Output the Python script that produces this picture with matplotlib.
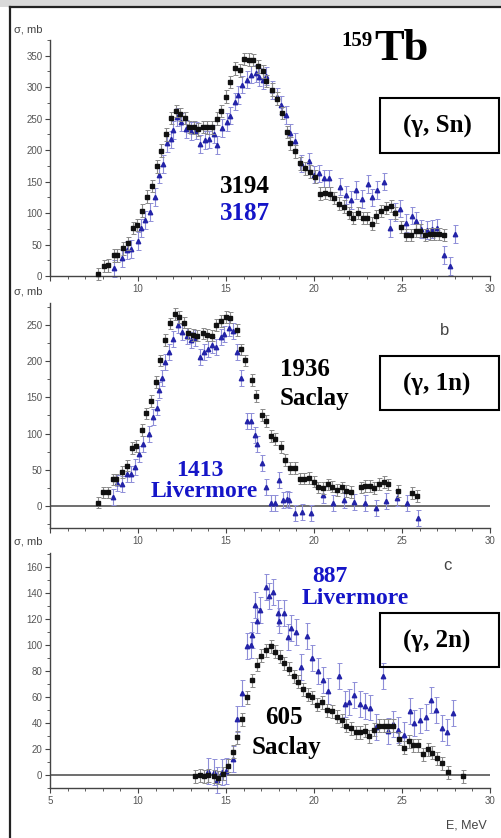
import matplotlib.pyplot as plt
import numpy as np
from matplotlib.patches import Rectangle
from matplotlib.lines import Line2D
from matplotlib.ticker import MultipleLocator

W, H = 501, 838

# ---- panel a: (g, Sn) ----
a_sac_e = [7.74, 8.07, 8.3, 8.64, 8.8, 9.13, 9.41, 9.7, 9.96, 10.2, 10.5, 10.78, 11.06, 11.3, 11.6, 11.86,
           12.14, 12.4, 12.66, 12.9, 13.2, 13.4, 13.7, 13.9, 14.2, 14.5, 14.7, 15.0, 15.2, 15.5, 15.8, 16.0,
           16.3, 16.55, 16.84, 17.1, 17.3, 17.6, 17.9, 18.2, 18.45, 18.64, 18.9, 19.2, 19.5, 19.8, 20.06,
           20.34, 20.6, 20.9, 21.15, 21.4, 21.7, 21.97, 22.2, 22.5, 22.8, 23.0, 23.3, 23.55, 23.8, 24.1,
           24.35, 24.6, 24.94, 25.2, 25.5, 25.8, 26.0, 26.3, 26.6, 26.8, 27.1, 27.4]
a_sac_s = [3, 16, 17, 33, 33, 44, 52, 76, 81, 104, 126, 143, 174, 199, 225, 251,
           262, 257, 251, 237, 236, 233, 237, 236, 236, 250, 262, 285, 308, 330, 327, 345,
           344, 343, 333, 325, 310, 296, 282, 259, 229, 211, 198, 179, 171, 166, 158,
           131, 132, 131, 124, 115, 110, 100, 92, 100, 92, 92, 83, 95, 103, 108,
           111, 100, 78, 65, 65, 72, 72, 65, 67, 67, 67, 65]
a_liv_e = [8.64, 9.07, 9.4, 9.6, 9.98, 10.15, 10.4, 10.68, 10.97, 11.2, 11.4, 11.67, 11.86, 12.0, 12.23,
           12.46, 12.74, 13.0, 13.3, 13.5, 13.8, 14.05, 14.3, 14.5, 14.75, 15.05, 15.25, 15.5, 15.7, 15.9,
           16.2, 16.4, 16.7, 16.9, 17.1, 17.3, 17.6, 17.9, 18.1, 18.4, 18.64, 18.9, 19.26, 19.7, 20.0,
           20.26, 20.55, 20.85, 21.5, 21.8, 22.1, 22.4, 22.7, 23.05, 23.3, 23.6, 23.98, 24.3, 24.6, 24.9,
           25.2, 25.55, 25.8, 26.1, 26.4, 26.7, 27.0, 27.4, 27.7, 28.0]
a_liv_s = [12, 28, 41, 43, 56, 76, 89, 102, 126, 161, 178, 211, 217, 232, 253,
           245, 234, 230, 231, 210, 216, 217, 226, 208, 235, 245, 255, 277, 288, 304,
           312, 320, 322, 316, 311, 318, 296, 285, 272, 256, 227, 214, 179, 182, 161,
           163, 155, 155, 142, 129, 121, 137, 122, 146, 125, 137, 150, 76, 102, 107,
           84, 96, 88, 75, 73, 75, 77, 33, 16, 67]

# ---- panel b: (g, 1n) ----
b_sac_e = [7.75, 8.03, 8.27, 8.56, 8.75, 9.1, 9.38, 9.64, 9.9, 10.2, 10.45, 10.74, 11.0, 11.27, 11.53, 11.8,
           12.08, 12.33, 12.6, 12.85, 13.1, 13.36, 13.7, 13.9, 14.2, 14.45, 14.7, 15.0, 15.25, 15.6, 15.87,
           16.1, 16.45, 16.72, 17.02, 17.28, 17.55, 17.8, 18.1, 18.38, 18.64, 18.9, 19.18, 19.44, 19.7,
           20.0, 20.25, 20.5, 20.8, 21.05, 21.32, 21.58, 21.83, 22.1, 22.65, 22.9, 23.17, 23.42, 23.72,
           23.98, 24.23, 24.8, 25.55, 25.85]
b_sac_s = [5, 19, 19, 37, 37, 47, 56, 80, 83, 105, 128, 145, 171, 201, 229, 252,
           265, 261, 253, 238, 236, 235, 238, 236, 235, 250, 255, 261, 260, 243, 216,
           201, 174, 152, 126, 117, 97, 93, 82, 64, 53, 53, 38, 38, 39,
           34, 26, 25, 30, 27, 22, 26, 21, 20, 26, 28, 28, 25, 31,
           33, 30, 21, 18, 14]
b_liv_e = [8.6, 8.83, 9.1, 9.36, 9.6, 9.85, 10.06, 10.3, 10.6, 10.87, 11.1, 11.2, 11.35, 11.55, 11.76, 11.97,
           12.3, 12.5, 12.77, 13.0, 13.26, 13.5, 13.75, 14.0, 14.2, 14.45, 14.7, 14.9, 15.15, 15.4, 15.6,
           15.85, 16.18, 16.4, 16.65, 16.78, 17.03, 17.3, 17.54, 17.78, 18.0, 18.26, 18.45, 18.6, 18.92,
           19.3, 19.85, 20.5, 21.1, 21.7, 22.3, 22.9, 23.55, 24.1, 24.7, 25.3, 25.9]
b_liv_s = [13, 32, 30, 44, 45, 54, 72, 86, 100, 123, 136, 160, 176, 199, 213, 230,
           249, 240, 235, 229, 232, 206, 213, 216, 222, 220, 233, 237, 246, 242, 213,
           176, 117, 117, 98, 86, 59, 27, 4, 5, 36, 8, 10, 8, -10,
           -8, -10, 15, 5, 8, 6, 4, -3, 7, 11, 4, -16]

# ---- panel c: (g, 2n) ----
c_sac_e = [13.24, 13.5, 13.75, 14.0, 14.3, 14.55, 14.85, 15.1, 15.38, 15.64, 15.9, 16.18, 16.46, 16.75, 17.0,
           17.26, 17.54, 17.8, 18.06, 18.3, 18.6, 18.85, 19.1, 19.37, 19.65, 19.9, 20.16, 20.45, 20.76,
           21.0, 21.3, 21.6, 21.8, 22.1, 22.4, 22.6, 22.9, 23.15, 23.4, 23.7, 24.0, 24.2, 24.5, 24.85,
           25.1, 25.4, 25.65, 25.9, 26.2, 26.45, 26.7, 27.0, 27.25, 27.6, 28.45]
c_sac_s = [-1, 0, -1, 0, -1, -2, 1, 7, 18, 29, 43, 60, 73, 85, 92,
           96, 99, 95, 91, 86, 82, 76, 72, 66, 62, 60, 54, 56, 50,
           49, 45, 42, 38, 36, 33, 33, 34, 30, 35, 38, 38, 38, 38, 28,
           21, 26, 23, 23, 16, 20, 17, 13, 9, 2, -1]
c_liv_e = [14.0, 14.3, 14.5, 14.75, 15.0, 15.4, 15.64, 15.9, 16.18, 16.4, 16.46, 16.65, 16.75, 16.95, 17.27,
           17.45, 17.67, 17.94, 18.0, 18.3, 18.5, 18.7, 18.95, 19.26, 19.6, 19.9, 20.2, 20.5, 20.8,
           21.44, 21.76, 22.0, 22.3, 22.6, 22.9, 23.2, 23.5, 23.9, 24.2, 24.5, 24.8, 25.1, 25.45, 25.7,
           26.0, 26.35, 26.65, 26.96, 27.3, 27.55, 27.9]
c_liv_s = [3, 2, -4, 2, 3, 12, 43, 63, 99, 100, 108, 131, 119, 127, 145,
           138, 141, 125, 119, 125, 106, 113, 110, 83, 107, 90, 80, 73, 65,
           76, 55, 56, 62, 55, 53, 52, 37, 76, 34, 39, 35, 31, 49, 40,
           42, 45, 58, 50, 36, 33, 48]

panels = [
    dict(box=(40, 276), ylim=(0, 375), major=50, minor=25, zero=False, xlab5=False,
         sac=(a_sac_e, a_sac_s, 10), liv=(a_liv_e, a_liv_s, 14)),
    dict(box=(303, 528), ylim=(-30, 280), major=50, minor=25, zero=True, xlab5=False,
         sac=(b_sac_e, b_sac_s, 8), liv=(b_liv_e, b_liv_s, 11)),
    dict(box=(553, 788), ylim=(-10, 171), major=20, minor=10, zero=True, xlab5=True,
         sac=(c_sac_e, c_sac_s, 5), liv=(c_liv_e, c_liv_s, 10)),
]

BLK, BLK_ERR = '#111111', '#8a8a8a'
BLU, BLU_ERR = '#2323a8', '#8e8ed8'
TICK_C = '#555555'

fig = plt.figure(figsize=(W / 100, H / 100), dpi=100)
fig.patch.set_facecolor('white')


def fx(px):
    return px / W


def fy(py):
    return 1 - py / H


for p in panels:
    top, bot = p['box']
    ax = fig.add_axes([fx(50), fy(bot), 440 / W, (bot - top) / H])
    ax.set_xlim(5, 30)
    ax.set_ylim(*p['ylim'])
    for s in ('top', 'right'):
        ax.spines[s].set_visible(False)
    for s in ('left', 'bottom'):
        ax.spines[s].set_color('#444444')
        ax.spines[s].set_linewidth(1.0)
    if p['zero']:
        ax.axhline(0, color='#555555', lw=1.2, zorder=1)
    ax.xaxis.set_major_locator(MultipleLocator(5))
    ax.xaxis.set_minor_locator(MultipleLocator(1))
    ax.yaxis.set_major_locator(MultipleLocator(p['major']))
    ax.yaxis.set_minor_locator(MultipleLocator(p['minor']))
    ax.tick_params(which='major', direction='out', length=3.5, width=0.8, color='#444444',
                   labelsize=7, labelcolor=TICK_C, pad=2)
    ax.tick_params(which='minor', direction='out', length=2, width=0.6, color='#444444')
    for lab in ax.get_yticklabels() + ax.get_xticklabels():
        lab.set_family('Liberation Sans')
    ax.set_xticks([5, 10, 15, 20, 25, 30])
    if not p['xlab5']:
        ax.set_xticklabels(['', '10', '15', '20', '25', '30'])
    ax.set_yticks([t for t in ax.get_yticks() if p['ylim'][0] <= t <= p['ylim'][1] and t >= 0])

    e, s, err = p['sac']
    ax.errorbar(e, s, yerr=err, fmt='s', ms=2.6, color=BLK, ecolor=BLK_ERR, elinewidth=0.8,
                capsize=1.8, capthick=0.7, zorder=3, clip_on=False)
    e, s, err = p['liv']
    ax.errorbar(e, s, yerr=err, fmt='^', ms=3.2, color=BLU, ecolor=BLU_ERR, elinewidth=0.8,
                capsize=1.8, capthick=0.7, zorder=2, clip_on=False)

    fig.text(fx(14), fy(top - 11), '\u03c3, mb', fontsize=8, color='#444444',
             family='Liberation Sans', va='center', ha='left')

# frame and top band
fig.add_artist(Rectangle((0, fy(7)), 1, 7 / H, transform=fig.transFigure,
                         facecolor='#d9d9d9', edgecolor='none'))
fig.add_artist(Line2D([fx(10), 1], [fy(7), fy(7)], transform=fig.transFigure, color='#222222', lw=1.6))
fig.add_artist(Line2D([fx(10), fx(10)], [fy(7), 0], transform=fig.transFigure, color='#222222', lw=1.6))

# reaction boxes
serif = dict(family='Liberation Serif', weight='bold')
for (t0, t1), label in [((98, 153), '(\u03b3, Sn)'), ((356, 410), '(\u03b3, 1n)'), ((613, 667), '(\u03b3, 2n)')]:
    fig.add_artist(Rectangle((fx(380), fy(t1)), (499 - 380) / W, (t1 - t0) / H, transform=fig.transFigure,
                             fill=False, edgecolor='black', lw=1.5))
    fig.text(fx(437), fy((t0 + t1) / 2 + 1), label, fontsize=18, ha='center', va='center', **serif)

# title
fig.text(fx(374), fy(60), 'Tb', fontsize=32, ha='left', va='baseline', **serif)
fig.text(fx(341), fy(46), '159', fontsize=15, ha='left', va='baseline', **serif)

# integrated cross sections
fig.text(fx(245), fy(186), '3194', fontsize=18, ha='center', va='center', color='black', **serif)
fig.text(fx(245), fy(213), '3187', fontsize=18, ha='center', va='center', color='#1515c8', **serif)

fig.text(fx(280), fy(369), '1936', fontsize=18, ha='left', va='center', color='black', **serif)
fig.text(fx(280), fy(398), 'Saclay', fontsize=18, ha='left', va='center', color='black', **serif)
fig.text(fx(200), fy(470), '1413', fontsize=17, ha='center', va='center', color='#1515c8', **serif)
fig.text(fx(204), fy(491), 'Livermore', fontsize=17, ha='center', va='center', color='#1515c8', **serif)

fig.text(fx(330), fy(576), '887', fontsize=17, ha='center', va='center', color='#1515c8', **serif)
fig.text(fx(355), fy(598), 'Livermore', fontsize=17, ha='center', va='center', color='#1515c8', **serif)
fig.text(fx(284), fy(717), '605', fontsize=18, ha='center', va='center', color='black', **serif)
fig.text(fx(286), fy(747), 'Saclay', fontsize=18, ha='center', va='center', color='black', **serif)

# panel letters and x label
fig.text(fx(445), fy(330), 'b', fontsize=12, ha='center', va='center', color='#444444', family='Liberation Sans')
fig.text(fx(447), fy(565), 'c', fontsize=12, ha='center', va='center', color='#444444', family='Liberation Sans')
fig.text(fx(487), fy(825), 'E, MeV', fontsize=9, ha='right', va='center', color='#444444', family='Liberation Sans')

fig.savefig('out.png', dpi=100)
